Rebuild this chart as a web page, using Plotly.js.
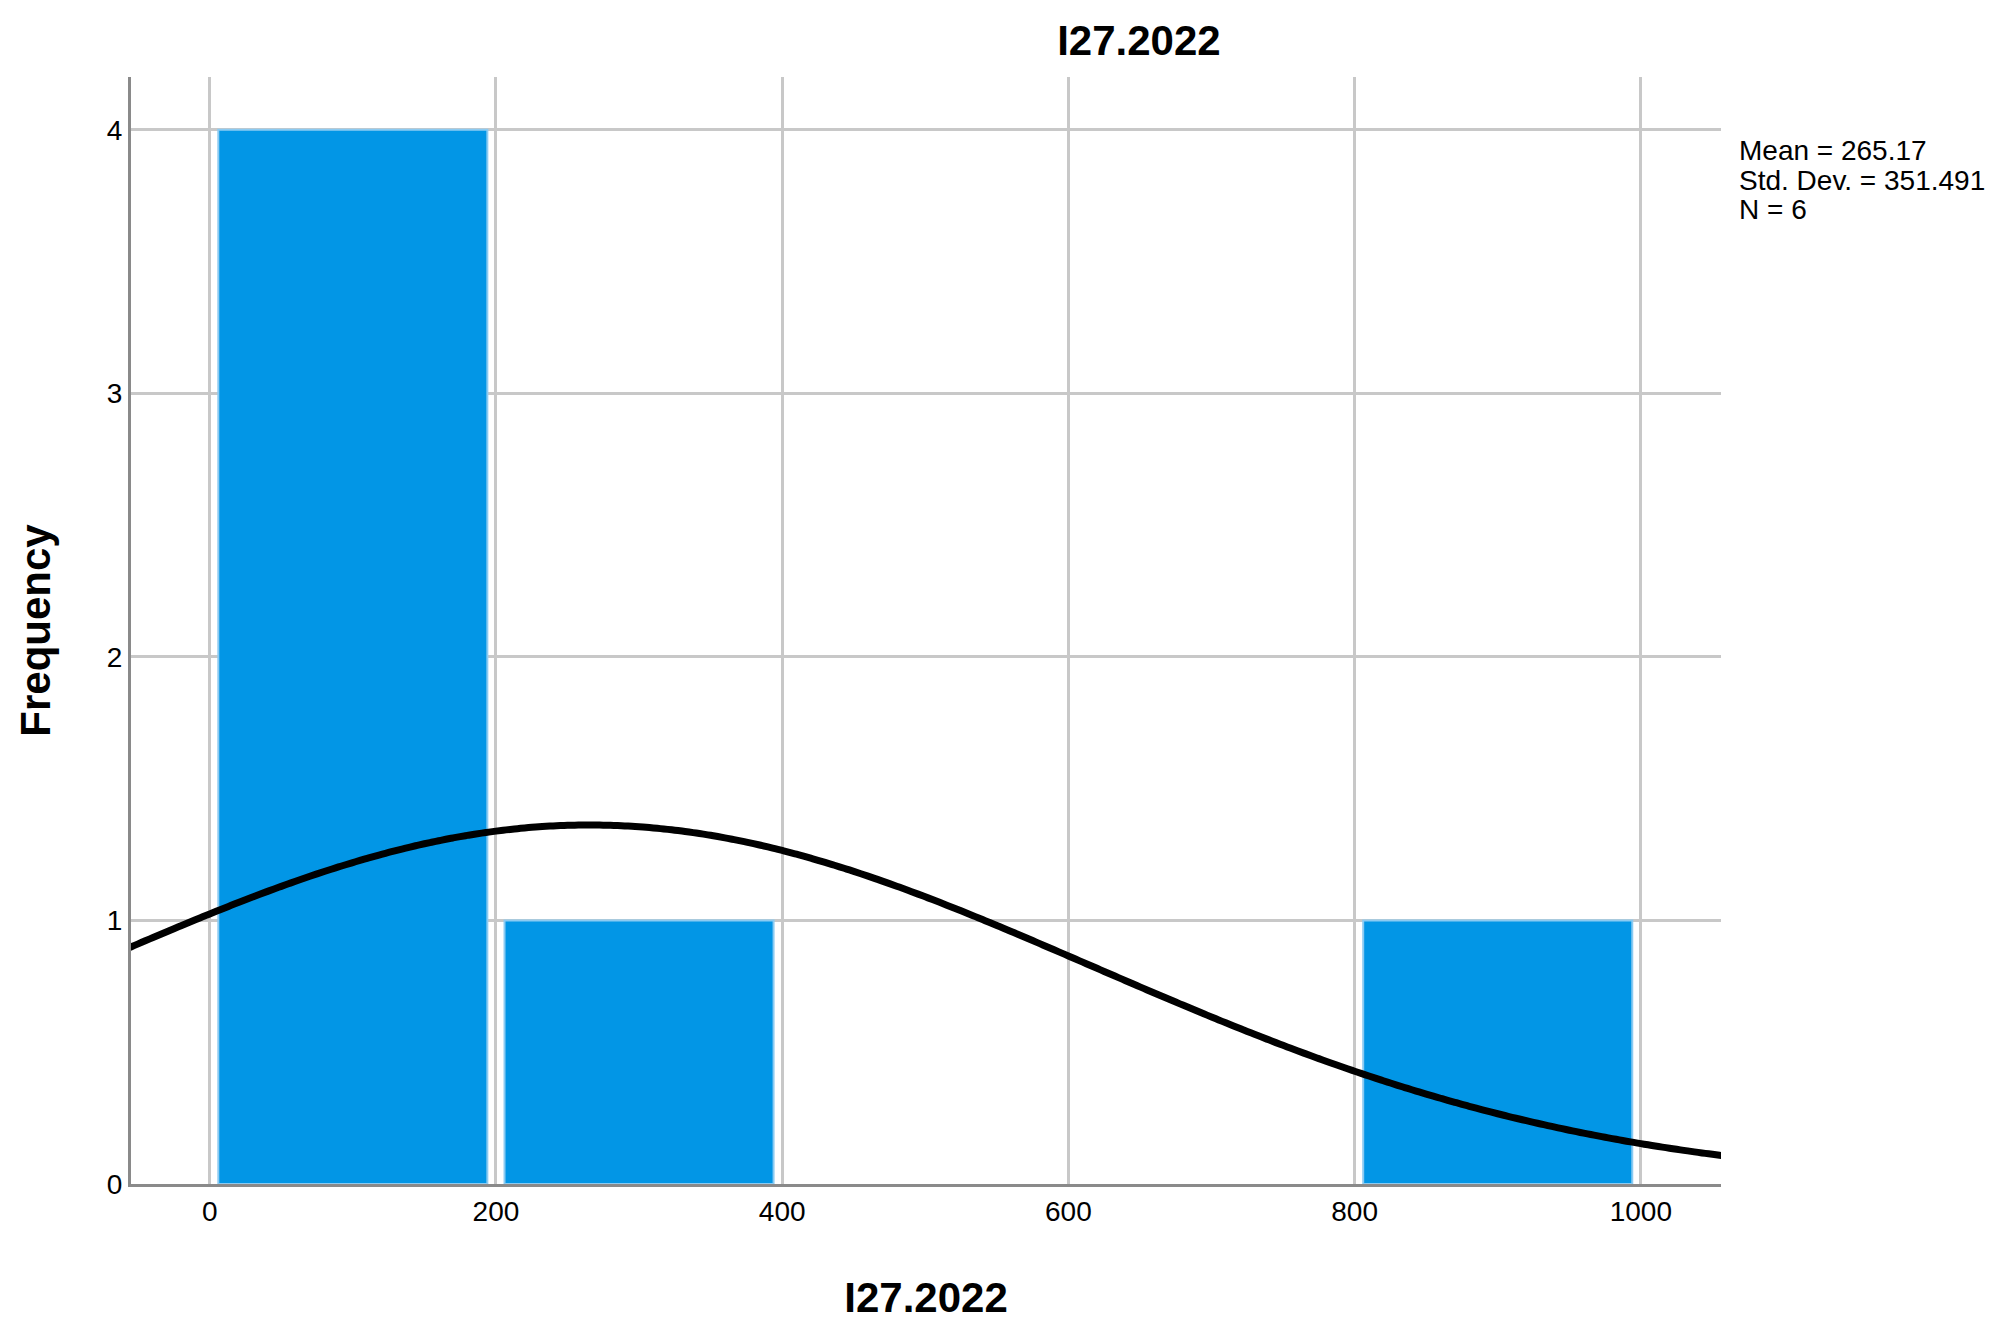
<!DOCTYPE html>
<html>
<head>
<meta charset="utf-8">
<script src="https://cdn.plot.ly/plotly-3.0.1.min.js"></script>
<style>html,body{margin:0;padding:0;background:#fff;}#chart{width:2014px;height:1333px;}</style>
</head>
<body>
<div id="chart"></div>
<script>
// Histogram data
var binCenters = [100, 300, 500, 700, 900];
var binCounts = [4, 1, 0, 0, 1];
var binWidth = 200;
var xTicks = [0, 200, 400, 600, 800, 1000];
var yTicks = [0, 1, 2, 3, 4];
// Summary statistics shown on the chart
var statMean = 265.17;
var statSD = 351.491;
var statN = 6;
var statLabels = ["Mean = 265.17", "Std. Dev. = 351.491", "N = 6"];
var chartTitle = "I27.2022";

// Normal curve implied by the stated mean / SD, scaled to counts
var curveX = [], curveY = [];
for (var x = -60; x <= 1060; x += 5) {
  curveX.push(x);
  var z = (x - statMean) / statSD;
  curveY.push(statN * binWidth * Math.exp(-0.5 * z * z) / (statSD * Math.sqrt(2 * Math.PI)));
}

var font = "'Liberation Sans', Arial, sans-serif";

var traces = [
  {
    type: 'bar', x: binCenters, y: binCounts.map(function (v) { return v > 0 ? v : null; }), width: 188,
    marker: {color: '#0296E6', line: {color: '#8CCBF2', width: 2}},
    hoverinfo: 'x+y', showlegend: false
  },
  {
    type: 'scatter', mode: 'lines', x: curveX, y: curveY,
    line: {color: '#000000', width: 7, shape: 'spline'},
    showlegend: false, hoverinfo: 'skip'
  }
];

var statShifts = [-73, -103, -132];
var annotations = statLabels.map(function (t, i) {
  return {
    text: t, xref: 'paper', yref: 'paper',
    x: 1, xshift: 16, y: 1, yshift: statShifts[i], xanchor: 'left', yanchor: 'middle',
    align: 'left', showarrow: false,
    font: {family: font, size: 28, color: '#000'}
  };
});

var layout = {
  width: 2014, height: 1333,
  paper_bgcolor: '#ffffff', plot_bgcolor: '#ffffff',
  margin: {l: 131, r: 293, t: 77, b: 149},
  font: {family: font, color: '#000'},
  title: {
    text: chartTitle, font: {family: font, size: 42, weight: 'bold', color: '#000'},
    x: 0.5655, xref: 'container', xanchor: 'center',
    y: 1 - 40 / 1333, yref: 'container', yanchor: 'middle'
  },
  xaxis: {
    range: [-55, 1056], tickvals: xTicks, ticktext: xTicks.map(String),
    showgrid: true, gridcolor: '#c8c8c8', gridwidth: 3,
    showline: true, linecolor: '#8a8a8a', linewidth: 3,
    zeroline: false, ticks: '', ticklen: 0,
    tickfont: {family: font, size: 28, color: '#000'},
    title: {text: chartTitle, font: {family: font, size: 42, weight: 'bold', color: '#000'}, standoff: 58},
    fixedrange: true
  },
  yaxis: {
    range: [0, 4.2], tickvals: yTicks, ticktext: yTicks.map(String),
    showgrid: true, gridcolor: '#c8c8c8', gridwidth: 3,
    showline: true, linecolor: '#8a8a8a', linewidth: 3,
    zeroline: false, ticks: '', ticklen: 0,
    tickfont: {family: font, size: 28, color: '#000'},
    title: {text: 'Frequency', font: {family: font, size: 42, weight: 'bold', color: '#000'}, standoff: 44},
    fixedrange: true
  },
  annotations: annotations
};

Plotly.newPlot('chart', traces, layout, {displayModeBar: false, staticPlot: true});
</script>
</body>
</html>
